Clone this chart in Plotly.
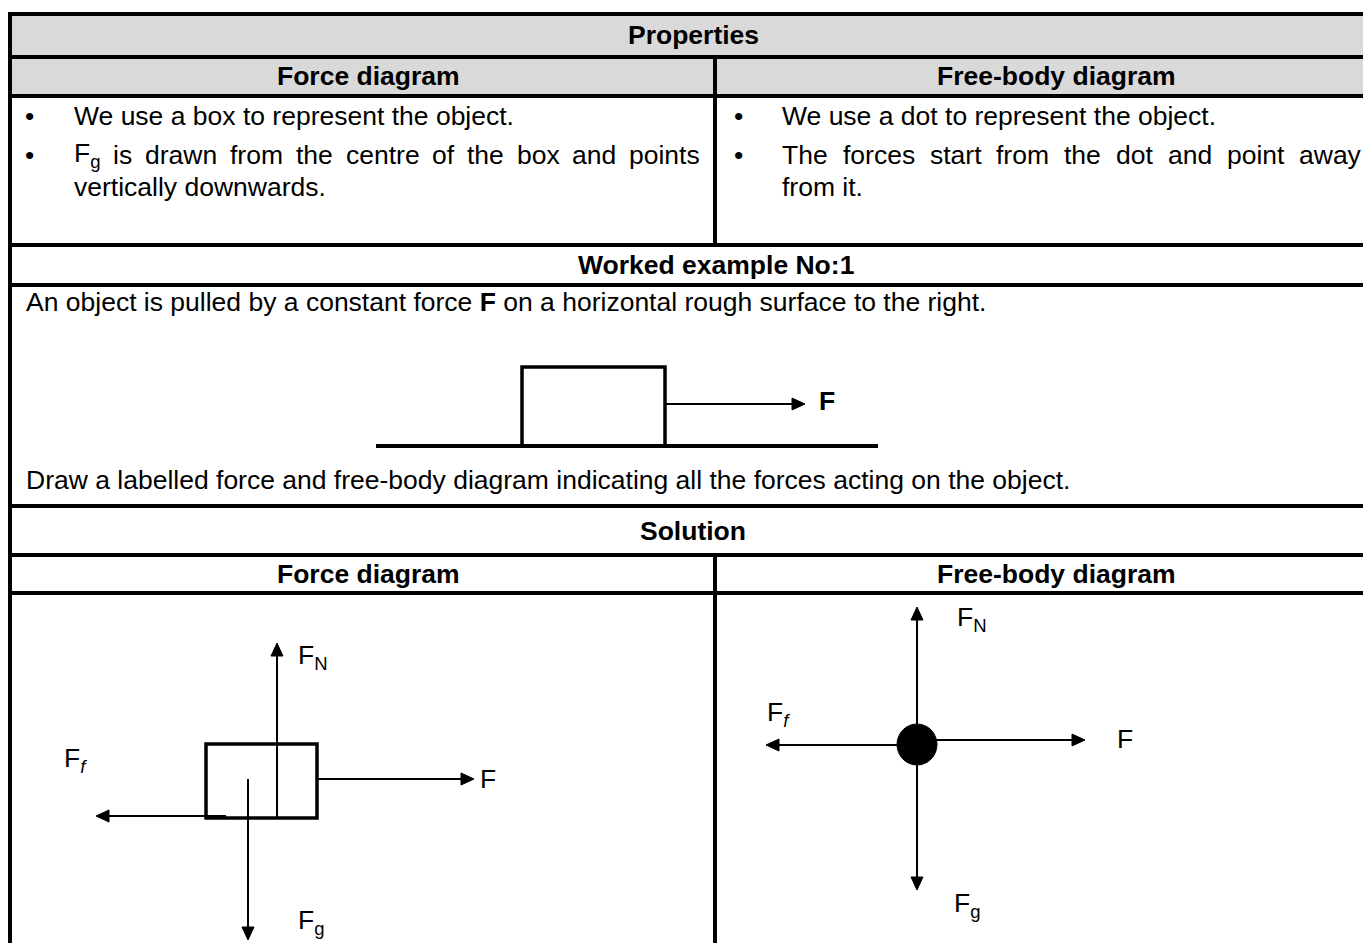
import re
import math
import plotly.graph_objects as go

# ---------------------------------------------------------------- canvas
W, H = 1363, 943
FONT = "Liberation Sans, Arial, sans-serif"
FS = 26.5
GRAY = "#d9d9d9"
HEAD_L, HEAD_W = 13, 12          # arrow head length / width (px)

# ---------------------------------------------------------------- text content
TITLE = "Properties"
COL_HEADS = ["Force diagram", "Free-body diagram"]
LEFT_PROPS = ["We use a box to represent the object.",
              "F<sub>g</sub> is drawn from the centre of the box and points",
              "vertically downwards."]
RIGHT_PROPS = ["We use a dot to represent the object.",
               "The forces start from the dot and point away",
               "from it."]
EXAMPLE_TITLE = "Worked example No:1"
EXAMPLE_TEXT = ["An object is pulled by a constant force <b>F</b> on a horizontal rough surface to the right.",
                "Draw a labelled force and free-body diagram indicating all the forces acting on the object."]
SOLUTION_TITLE = "Solution"

# force labels and arrows: (tail x, tail y) -> (tip x, tip y)
FORCE_LABELS = ["F<sub>N</sub>", "F<sub>g</sub>", "F", "F<sub><i>f</i></sub>"]
FD_TAIL = [(277, 818), (248, 779), (317, 779), (226, 816)]
FD_TIP = [(277, 643), (248, 940), (474, 779), (96, 816)]
FD_LABEL_POS = [(296, 657), (296, 922), (478, 779), (62, 760)]

FB_TAIL = [(917, 744), (917, 744), (916, 740), (916, 745)]
FB_TIP = [(917, 607), (917, 890), (1085, 740), (766, 745)]
FB_LABEL_POS = [(955, 619), (952, 905), (1115, 739), (765, 714)]

# table grid
ROW_LINES = [14, 57, 96, 245, 285, 506, 555, 593]
LEFT_X, MID_X, RIGHT_X = 10, 715, 1380
PROP_Y = [116, 155, 187]

# ---------------------------------------------------------------- helpers
ARIAL = {" ": 278, ".": 278, "F": 611, "T": 611, "W": 944,
         "a": 556, "b": 556, "c": 500, "d": 556, "e": 556, "f": 278, "g": 556,
         "h": 556, "i": 222, "j": 222, "k": 500, "l": 222, "m": 833, "n": 556,
         "o": 556, "p": 556, "q": 556, "r": 333, "s": 500, "t": 278, "u": 556,
         "v": 500, "w": 722, "x": 500, "y": 500, "z": 500}


def text_w(markup, size):
    total = 0
    for sub, plain in re.findall(r"<sub>(.*?)</sub>|([^<]+)", markup):
        s, k = (sub, 0.7) if sub else (plain, 1.0)
        total += k * sum(ARIAL.get(c, 556) for c in re.sub(r"<.*?>", "", s))
    return total * size / 1000


def txt(text, x, y, size=FS, xanchor="left", bold=False):
    if bold:
        text = f"<b>{text}</b>"
    return dict(text=text, x=x, y=y, xref="x", yref="y", xanchor=xanchor,
                yanchor="middle", showarrow=False,
                font=dict(family=FONT, size=size, color="black"))


def justified(line, x0, x1, y):
    words = line.split(" ")
    widths = [text_w(w, FS) for w in words]
    gap = (x1 - x0 - sum(widths)) / (len(words) - 1)
    out, x = [], x0
    for w, wd in zip(words, widths):
        out.append(txt(w, x, y))
        x += wd + gap
    return out


def line(x0, y0, x1, y1, w=4):
    return dict(type="line", x0=x0, y0=y0, x1=x1, y1=y1, xref="x", yref="y",
                line=dict(color="black", width=w))


def arrow(tail, tip):
    dx, dy = tip[0] - tail[0], tip[1] - tail[1]
    n = math.hypot(dx, dy)
    ux, uy = dx / n, dy / n
    bx, by = tip[0] - ux * HEAD_L, tip[1] - uy * HEAD_L
    px, py = -uy * HEAD_W / 2, ux * HEAD_W / 2
    head = (f"M {tip[0]},{tip[1]} L {bx + px},{by + py} "
            f"L {bx - px},{by - py} Z")
    return [line(tail[0], tail[1], bx + ux, by + uy, 2),
            dict(type="path", path=head, xref="x", yref="y",
                 fillcolor="black", line=dict(color="black", width=1))]


# ---------------------------------------------------------------- shapes
shapes = [dict(type="rect", x0=LEFT_X, x1=RIGHT_X, y0=ROW_LINES[0], y1=ROW_LINES[2],
               fillcolor=GRAY, line=dict(width=0), layer="below")]
for y in ROW_LINES:
    shapes.append(line(LEFT_X - 2, y, RIGHT_X, y))
shapes.append(line(LEFT_X, ROW_LINES[0], LEFT_X, H + 5))
shapes.append(line(MID_X, ROW_LINES[1], MID_X, ROW_LINES[3]))
shapes.append(line(MID_X, ROW_LINES[6], MID_X, H + 5))

# worked example sketch
shapes.append(line(376, 446, 878, 446, 4))
shapes.append(dict(type="rect", x0=522, x1=665, y0=367, y1=446,
                   line=dict(color="black", width=3.5)))
shapes += arrow((665, 404), (805, 404))
# force diagram box
shapes.append(dict(type="rect", x0=206, x1=317, y0=744, y1=818,
                   line=dict(color="black", width=3.5)))
# free-body dot
shapes.append(dict(type="circle", x0=897, x1=937, y0=724, y1=765,
                   fillcolor="black", line=dict(color="black", width=1)))

for tails, tips in [(FD_TAIL, FD_TIP), (FB_TAIL, FB_TIP)]:
    for t0, t1 in zip(tails, tips):
        shapes += arrow(t0, t1)

# ---------------------------------------------------------------- annotations
ann = [txt(TITLE, 693, 35, xanchor="center", bold=True),
       txt(COL_HEADS[0], 368, 76, xanchor="center", bold=True),
       txt(COL_HEADS[1], 1056, 76, xanchor="center", bold=True),
       txt(EXAMPLE_TITLE, 716, 265, xanchor="center", bold=True),
       txt(SOLUTION_TITLE, 693, 531, xanchor="center", bold=True),
       txt(COL_HEADS[0], 368, 574, xanchor="center", bold=True),
       txt(COL_HEADS[1], 1056, 574, xanchor="center", bold=True),
       txt(EXAMPLE_TEXT[0], 24, 302),
       txt(EXAMPLE_TEXT[1], 24, 480)]

for bx, tx, x1, items in [(29, 72, 698, LEFT_PROPS), (738, 780, 1359, RIGHT_PROPS)]:
    ann.append(txt("•", bx, PROP_Y[0], xanchor="center"))
    ann.append(txt("•", bx, PROP_Y[1], xanchor="center"))
    ann.append(txt(items[0], tx, PROP_Y[0]))
    ann += justified(items[1], tx, x1, PROP_Y[1])
    ann.append(txt(items[2], tx, PROP_Y[2]))

ann.append(txt("F", 817, 401, bold=True))
for labels in [FD_LABEL_POS, FB_LABEL_POS]:
    for name, (lx, ly) in zip(FORCE_LABELS, labels):
        ann.append(txt(name, lx, ly))

fig = go.Figure()
fig.update_layout(
    width=W, height=H, margin=dict(l=0, r=0, t=0, b=0),
    paper_bgcolor="white", plot_bgcolor="white",
    xaxis=dict(range=[0, W], visible=False, fixedrange=True),
    yaxis=dict(range=[H, 0], visible=False, fixedrange=True),
    showlegend=False, shapes=shapes, annotations=ann,
)

fig.write_html("out.html", config={"displayModeBar": False},
               post_script="document.body.style.margin='0';")
